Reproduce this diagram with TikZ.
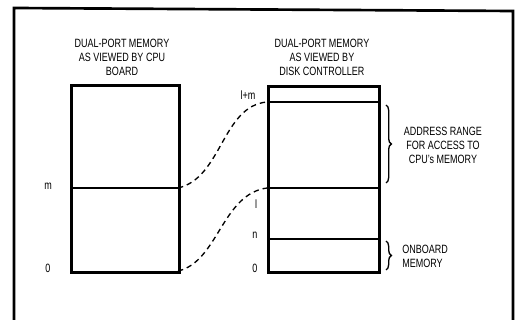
\documentclass[tikz,border=0pt]{standalone}
\usepackage{fontspec}
\setmainfont{Liberation Sans}[FakeStretch=0.75]
\usetikzlibrary{decorations.pathreplacing}
\begin{document}
\begin{tikzpicture}[x=0.75pt,y=-0.75pt,
  lbl/.style={font=\fontsize{9}{10.5}\selectfont, inner sep=0pt, align=center},
  membox/.style={draw, line width=2pt, inner sep=0pt, anchor=north west},
  sep/.style={line width=1pt},
  conn/.style={dashed, line width=1pt, dash pattern=on 4pt off 3pt},
  brc/.style={decorate, decoration={brace, amplitude=4pt}, line width=1pt}]
\useasboundingbox (0,0) rectangle (515,320);
% frame
\draw[line width=2pt] (14,325) -- (14,8) -- (513,11) -- (513,325);
% boxes
\node[membox, minimum width=81pt, minimum height=140.25pt] (cpu) at (70,84) {};
\node[membox, minimum width=83.25pt, minimum height=139.5pt] (dsk) at (267,85) {};
% separators
\coordinate (cm1) at (70,188); \coordinate (cm2) at (178,188);
\draw[sep] (cm1) -- (cm2);
\coordinate (lm1) at (267,102); \coordinate (lm2) at (378,102);
\coordinate (l1) at (267,188); \coordinate (l2) at (378,188);
\coordinate (n1) at (267,239); \coordinate (n2) at (378,239);
\draw[sep] (lm1) -- (lm2);
\draw[sep] (l1) -- (l2);
\draw[sep] (n1) -- (n2);
% titles
\node[lbl] (t1) at (122,57) {DUAL-PORT MEMORY\\AS VIEWED BY CPU\\BOARD};
\node[lbl] (t2) at (322,57) {DUAL-PORT MEMORY\\AS VIEWED BY\\DISK CONTROLLER};
% labels
\node[lbl] (lm) at (48,186) {m};
\node[lbl] (l0) at (48,268) {0};
\node[lbl] (rlm) at (248,95) {l+m};
\node[lbl] (rl) at (256,204) {l};
\node[lbl] (rn) at (255,235) {n};
\node[lbl] (r0) at (255,268) {0};
% connectors
\draw[conn] (cm2) .. controls (222,178) and (222,106) .. (lm1);
\coordinate (cb) at (178,271);
\draw[conn] (cb) .. controls (218,262) and (222,194) .. (l1);
% braces
\coordinate (b1a) at (386,105); \coordinate (b1b) at (386,183);
\draw[brc] (b1a) -- (b1b);
\coordinate (b2a) at (386,241); \coordinate (b2b) at (386,270);
\draw[brc] (b2a) -- (b2b);
\node[lbl] (addr) at (443,145) {ADDRESS RANGE\\FOR ACCESS TO\\CPU's MEMORY};
\node[lbl, align=left, anchor=west] (onb) at (402,256) {ONBOARD\\MEMORY};
\end{tikzpicture}
\end{document}
